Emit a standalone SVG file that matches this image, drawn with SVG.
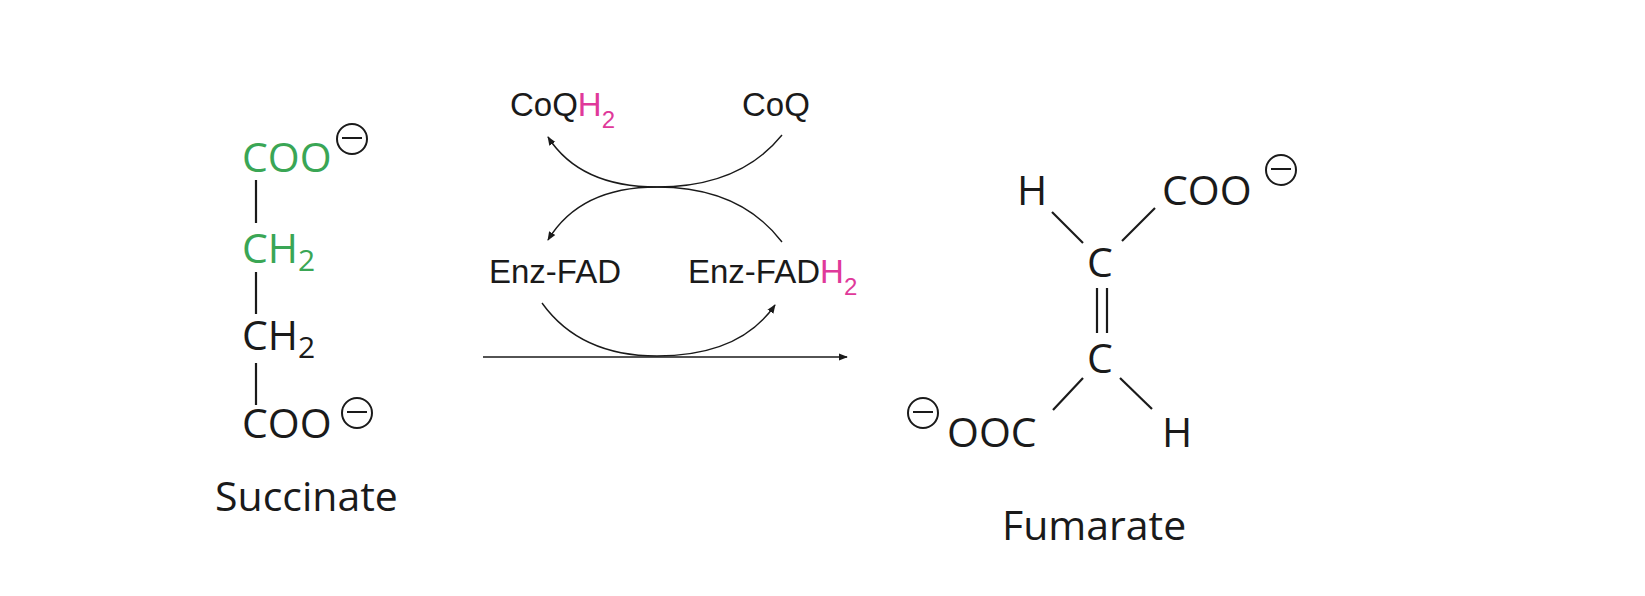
<svg xmlns="http://www.w3.org/2000/svg" width="1645" height="596" viewBox="0 0 1645 596">
<style>
.m{font-family:"Open Sans","Noto Sans",sans-serif;font-size:41px;fill:#1a1a1a}
.g{fill:#3aa655}
.s{font-size:30px}
.h{font-family:"Liberation Sans",Arial,sans-serif;font-size:33px;fill:#1a1a1a}
.p{fill:#e0399a}
.b{stroke:#1a1a1a;stroke-width:2.2;fill:none}
.a{stroke:#1a1a1a;stroke-width:1.4;fill:none}
</style>
<defs>
<marker id="ar" viewBox="0 0 10 10" refX="9" refY="5" markerWidth="9" markerHeight="9" markerUnits="userSpaceOnUse" orient="auto"><path d="M0,1 L10,5 L0,9 z" fill="#1a1a1a"/></marker>
<g id="minus"><circle r="15" fill="none" stroke="#1a1a1a" stroke-width="2"/><line x1="-10" y1="-1" x2="10" y2="-1" stroke="#1a1a1a" stroke-width="2"/></g>
</defs>
<rect width="1645" height="596" fill="#fff"/>
<g id="succinate">
<text class="m g" x="242" y="172">COO</text>
<use href="#minus" x="352" y="139"/>
<line class="b" x1="256" y1="180" x2="256" y2="223"/>
<text class="m g" x="242" y="263">CH<tspan class="s" dy="8">2</tspan></text>
<line class="b" x1="256" y1="272" x2="256" y2="314"/>
<text class="m" x="242" y="350">CH<tspan class="s" dy="8">2</tspan></text>
<line class="b" x1="256" y1="363" x2="256" y2="405"/>
<text class="m" x="242" y="438">COO</text>
<use href="#minus" x="357" y="413"/>
<text class="m" x="215" y="511">Succinate</text>
</g>
<g id="coqh2"><text class="h" x="510" y="116">CoQ<tspan class="p">H<tspan font-size="24" dy="12">2</tspan></tspan></text></g>
<g id="coq"><text class="h" x="742" y="116">CoQ</text></g>
<g id="enzfad"><text class="h" x="489" y="283">Enz-FAD</text></g>
<g id="enzfadh2"><text class="h" x="688" y="283">Enz-FAD<tspan class="p">H<tspan font-size="24" dy="12">2</tspan></tspan></text></g>
<g id="connectors">
<path class="a" d="M782,135 Q740,187 657,187 Q580,187 548,137" marker-end="url(#ar)"/>
<path class="a" d="M782,242 Q740,187 657,187 Q580,187 548,240" marker-end="url(#ar)"/>
<path class="a" d="M542,303 Q580,356 657,356 Q740,356 775,305" marker-end="url(#ar)"/>
<line class="a" x1="483" y1="357" x2="847" y2="357" stroke-width="1.6" marker-end="url(#ar)"/>
</g>
<g id="fumarate">
<text class="m" x="1017" y="205">H</text>
<text class="m" x="1162" y="205">COO</text>
<use href="#minus" x="1281" y="170"/>
<line class="b" x1="1052" y1="212" x2="1083" y2="243"/>
<line class="b" x1="1122" y1="241" x2="1155" y2="208"/>
<text class="m" x="1087" y="277">C</text>
<line class="b" x1="1097" y1="288" x2="1097" y2="333"/>
<line class="b" x1="1107" y1="288" x2="1107" y2="333"/>
<text class="m" x="1087" y="373">C</text>
<line class="b" x1="1083" y1="378" x2="1053" y2="410"/>
<line class="b" x1="1120" y1="378" x2="1152" y2="409"/>
<use href="#minus" x="923" y="413"/>
<text class="m" x="947" y="447">OOC</text>
<text class="m" x="1162" y="447">H</text>
<text class="m" x="1002" y="540">Fumarate</text>
</g>
</svg>
